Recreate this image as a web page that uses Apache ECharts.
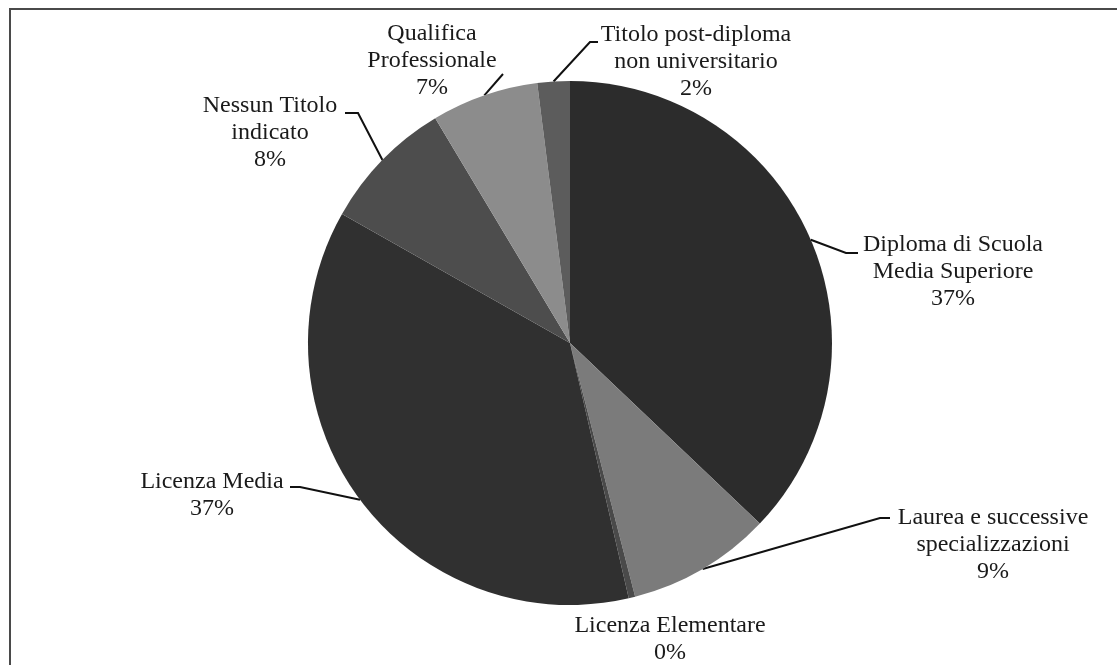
<!DOCTYPE html>
<html>
<head>
<meta charset="utf-8">
<script src="https://cdn.jsdelivr.net/npm/echarts@6/dist/echarts.min.js"></script>
<style>
html,body{margin:0;padding:0;background:#fff;}
#chart{width:1117px;height:665px;}
</style>
</head>
<body>
<div id="chart"></div>
<script>
// Data
const categories = [
  "Diploma di Scuola\nMedia Superiore",
  "Laurea e successive\nspecializzazioni",
  "Licenza Elementare",
  "Licenza Media",
  "Nessun Titolo\nindicato",
  "Qualifica\nProfessionale",
  "Titolo post-diploma\nnon universitario"
];
const values = [37.1, 8.9, 0.4, 36.8, 8.2, 6.6, 2.0];

// Styling / layout (not data)
const sliceColors = ["#2c2c2c", "#7b7b7b", "#4a4a4a", "#303030", "#4d4d4d", "#8c8c8c", "#5c5c5c"];
// label block centre and leader-line bend / end points
const labelPlace = [
  {x: 953, y: 272, bend: [846, 253], end: [858, 253]},
  {x: 993, y: 545, bend: [880, 518], end: [890, 518]},
  {x: 670, y: 639, bend: null, end: null},
  {x: 212, y: 495, bend: [300, 487], end: [290, 487]},
  {x: 270, y: 133, bend: [358, 113], end: [345, 113]},
  {x: 432, y: 61, bend: [503, 74], end: [503, 74]},
  {x: 696, y: 62, bend: [590, 42], end: [598, 42]}
];

const chart = echarts.init(document.getElementById('chart'), null, {renderer: 'canvas'});
const seriesData = categories.map((c, i) => ({
  name: c,
  value: values[i],
  itemStyle: {color: sliceColors[i]},
  labelLine: {show: labelPlace[i].bend !== null}
}));

chart.setOption({
  backgroundColor: '#ffffff',
  animation: false,
  graphic: [{
    type: 'rect',
    shape: {x: 10, y: 9, width: 1200, height: 700},
    style: {fill: 'none', stroke: '#4a4a4a', lineWidth: 2},
    silent: true
  }],
  series: [{
    type: 'pie',
    center: [570, 343],
    radius: 262,
    startAngle: 90,
    clockwise: true,
    data: seriesData,
    itemStyle: {borderWidth: 0},
    label: {
      show: true,
      position: 'outside',
      fontFamily: 'Liberation Serif',
      fontSize: 24,
      lineHeight: 27,
      color: '#1a1a1a',
      align: 'center',
      formatter: p => p.name + '\n' + Math.round(p.percent) + '%'
    },
    labelLine: {
      show: true,
      lineStyle: {color: '#111', width: 2}
    },
    labelLayout: function (params) {
      const lp = labelPlace[params.dataIndex];
      const out = {x: lp.x, y: lp.y, align: 'center', verticalAlign: 'middle'};
      if (lp.bend && params.labelLinePoints) {
        out.labelLinePoints = [params.labelLinePoints[0], lp.bend, lp.end];
      }
      return out;
    }
  }]
});
</script>
</body>
</html>
